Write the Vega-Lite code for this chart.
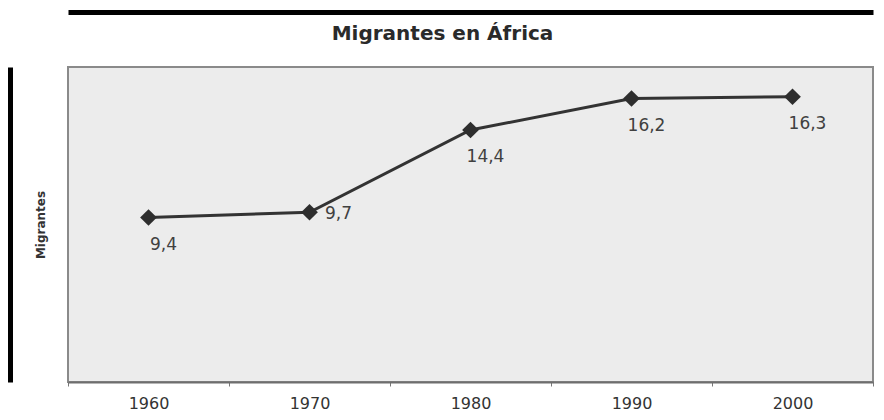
{
  "$schema": "https://vega.github.io/schema/vega-lite/v6.json",
  "width": 805,
  "height": 315,
  "autosize": {"type": "none"},
  "padding": {"left": 68, "top": 67, "right": 11, "bottom": 38},
  "background": "#ffffff",
  "config": {
    "locale": {"number": {"decimal": ",", "thousands": ".", "grouping": [3], "currency": ["", " €"]}},
    "view": {"fill": "#ececec", "stroke": "#8a8a8a", "strokeWidth": 2},
    "font": "DejaVu Sans"
  },
  "title": {
    "text": "Migrantes en África",
    "fontSize": 20,
    "fontWeight": "bold",
    "color": "#2a2a2a",
    "anchor": "middle",
    "dx": -28,
    "offset": -32
  },
  "data": {
    "values": [
      {"year": "1960", "migrants": 9.4},
      {"year": "1970", "migrants": 9.7},
      {"year": "1980", "migrants": 14.4},
      {"year": "1990", "migrants": 16.2},
      {"year": "2000", "migrants": 16.3}
    ]
  },
  "resolve": {"axis": {"x": "independent", "y": "independent"}},
  "layer": [
    {
      "encoding": {
        "x": {
          "field": "year",
          "type": "ordinal",
          "scale": {"paddingInner": 0, "paddingOuter": 0},
          "axis": {
            "title": null,
            "labelAngle": 0,
            "labelFontSize": 16,
            "labelColor": "#333333",
            "labelPadding": 9,
            "tickBand": "extent",
            "tickSize": 4,
            "tickColor": "#777777",
            "domainColor": "#6e6e6e",
            "domainWidth": 2,
            "grid": false
          }
        },
        "y": {
          "field": "migrants",
          "type": "quantitative",
          "scale": {"domain": [0, 18], "nice": false},
          "axis": {
            "title": "Migrantes",
            "titleFontSize": 12,
            "titleFontWeight": "bold",
            "titleColor": "#333333",
            "titlePadding": 21,
            "labels": false,
            "ticks": false,
            "domain": false,
            "grid": false
          }
        }
      },
      "layer": [
        {"mark": {"type": "line", "color": "#333333", "strokeWidth": 3}},
        {
          "transform": [{"filter": "datum.year != '1970'"}],
          "mark": {"type": "text", "fontSize": 17, "color": "#404040", "dx": 15, "dy": 27},
          "encoding": {"text": {"field": "migrants", "type": "quantitative", "format": ".1f"}}
        },
        {
          "transform": [{"filter": "datum.year == '1970'"}],
          "mark": {"type": "text", "fontSize": 17, "color": "#404040", "dx": 29, "dy": 2},
          "encoding": {"text": {"field": "migrants", "type": "quantitative", "format": ".1f"}}
        }
      ]
    },
    {
      "mark": {"type": "point", "shape": "diamond", "filled": true, "size": 280, "color": "#2e2e2e", "opacity": 1},
      "encoding": {
        "x": {
          "field": "year",
          "type": "ordinal",
          "axis": {"orient": "top", "offset": 55, "title": null, "labels": false, "ticks": false, "grid": false, "domainColor": "#000000", "domainWidth": 5}
        },
        "y": {
          "field": "migrants",
          "type": "quantitative",
          "axis": {"orient": "left", "offset": 58, "title": null, "labels": false, "ticks": false, "grid": false, "domainColor": "#000000", "domainWidth": 5}
        }
      }
    }
  ]
}
